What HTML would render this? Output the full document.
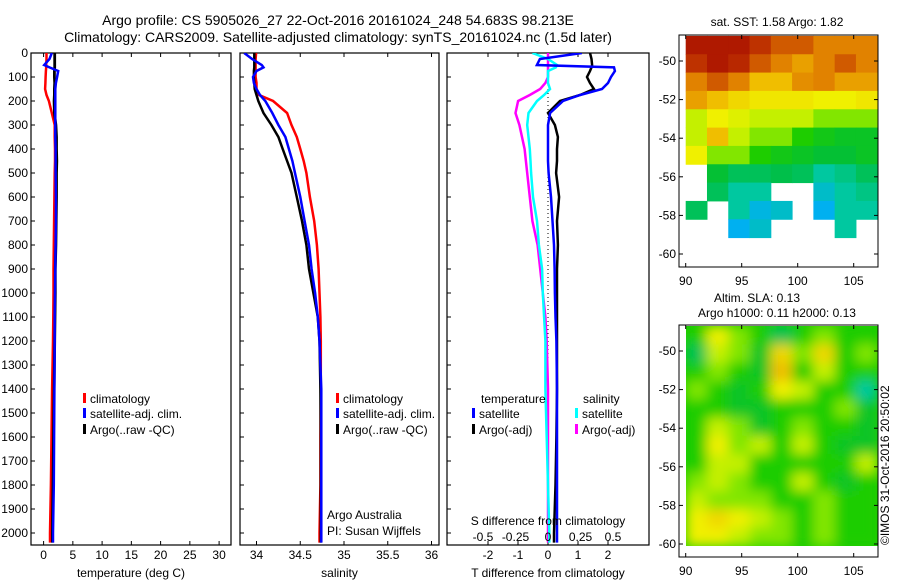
<!DOCTYPE html>
<html><head><meta charset="utf-8"><style>
html,body{margin:0;padding:0;background:#fff}
svg{display:block;font-family:"Liberation Sans",sans-serif}
</style></head><body>
<svg id="c" width="900" height="580" viewBox="0 0 900 580" xmlns="http://www.w3.org/2000/svg">
<defs>
<clipPath id="cp1"><rect x="31" y="53" width="200" height="492"/></clipPath>
<clipPath id="cp2"><rect x="240" y="53" width="199" height="492"/></clipPath>
<clipPath id="cp3"><rect x="447" y="53" width="202" height="492"/></clipPath>
<clipPath id="cm2"><rect x="686" y="326" width="192" height="220"/></clipPath>
<filter id="blur" x="-0.1" y="-0.1" width="1.2" height="1.2"><feGaussianBlur stdDeviation="6"/></filter>
</defs>
<text x="338" y="25" font-size="14" text-anchor="middle">Argo profile: CS 5905026_27 22-Oct-2016 20161024_248 54.683S 98.213E</text>
<text x="338" y="42" font-size="14" text-anchor="middle">Climatology: CARS2009. Satellite-adjusted climatology: synTS_20161024.nc (1.5d later)</text>
<g id="g"></g>
</svg>
<script>
const depth=[0,25,50,60,75,100,125,150,175,200,250,300,350,400,450,500,600,700,800,900,1000,1100,1200,1400,1600,1800,2000,2040];
const tClim=[0.5,0.5,0.45,0.45,0.4,0.35,0.3,0.25,0.5,0.9,1.4,1.9,1.9,1.95,1.95,1.9,1.85,1.8,1.75,1.7,1.7,1.65,1.6,1.45,1.35,1.25,1.1,1.1];
const tSat=[1.4,1.0,0.1,1.0,2.5,2.3,2.1,2.0,2.0,2.0,2.0,2.0,2.0,2.05,2.05,2.05,2.1,2.1,2.05,2.0,1.95,1.9,1.9,1.85,1.8,1.75,1.6,1.6];
const tArgo=[1.9,1.9,1.9,1.9,1.85,1.85,1.9,1.85,1.85,1.8,1.85,2.1,2.2,2.2,2.25,2.2,2.2,2.15,2.1,2.0,2.0,1.95,1.9,1.8,1.7,1.6,1.5,1.5];
const sClim=[33.995,33.99,33.99,33.99,33.99,33.99,34.0,34.0,34.03,34.19,34.35,34.40,34.46,34.5,34.54,34.57,34.61,34.66,34.69,34.71,34.72,34.73,34.735,34.735,34.73,34.73,34.72,34.72];
const sSat=[33.86,33.95,34.06,34.08,34.0,33.96,33.97,34.0,34.04,34.1,34.18,34.25,34.33,34.37,34.41,34.44,34.5,34.55,34.6,34.63,34.67,34.7,34.72,34.74,34.74,34.74,34.74,34.74];
const sArgo=[33.975,33.975,33.975,33.975,33.97,33.97,33.975,33.98,34.0,34.02,34.08,34.17,34.25,34.3,34.35,34.4,34.46,34.52,34.57,34.6,34.65,34.7,34.72,34.73,34.735,34.735,34.735,34.735];
const tdSat=[1.13,-0.27,-0.37,2.2,2.23,2.1,2.0,1.8,1.07,0.5,0.07,0.0,0.0,0.0,0.0,0.02,0.1,0.15,0.2,0.22,0.23,0.25,0.28,0.3,0.3,0.3,0.3,0.3];
const tdArgo=[1.4,1.45,1.47,1.45,1.4,1.3,1.4,1.53,1.07,0.4,0.0,0.23,0.33,0.3,0.3,0.27,0.37,0.3,0.33,0.3,0.3,0.3,0.3,0.3,0.28,0.25,0.2,0.2];
const sdSat=[-0.12,0.0,0.07,0.06,0.0,0.0,0.0,0.015,-0.03,-0.085,-0.15,-0.16,-0.15,-0.14,-0.135,-0.13,-0.115,-0.085,-0.07,-0.045,-0.04,-0.03,-0.02,-0.02,-0.01,0.0,0.01,0.01];
const sdArgo=[0.0,0.0,0.0,0.0,0.0,0.0,-0.02,-0.06,-0.14,-0.23,-0.25,-0.22,-0.2,-0.18,-0.17,-0.16,-0.14,-0.12,-0.08,-0.06,-0.04,-0.02,-0.01,0.0,0.0,0.0,0.0,0.0];
const depthTicks=[0,100,200,300,400,500,600,700,800,900,1000,1100,1200,1300,1400,1500,1600,1700,1800,1900,2000];
const tTicks=[0,5,10,15,20,25,30];
const sTicks=[34,34.5,35,35.5,36];
const tdTicks=[-2,-1,0,1,2];
const sdTicks=[-0.5,-0.25,0,0.25,0.5];
const lonTicks=[90,95,100,105];
const latTicks=[-50,-52,-54,-56,-58,-60];
const sstGrid=[
[0.95,0.95,0.95,0.9,0.85,0.85,0.8,0.8,0.8],
[0.9,0.95,0.92,0.85,0.8,0.75,0.8,0.85,0.8],
[0.8,0.85,0.8,0.7,0.7,0.78,0.8,0.75,0.75],
[0.75,0.7,0.65,0.62,0.62,0.62,0.6,0.6,0.62],
[0.55,0.6,0.58,0.55,0.55,0.55,0.5,0.5,0.5],
[0.55,0.7,0.55,0.5,0.5,0.45,0.42,0.4,0.4],
[0.6,0.5,0.5,0.45,0.42,0.4,0.38,0.38,0.4],
[null,0.38,0.35,0.35,0.36,0.35,0.3,0.32,0.35],
[null,0.35,0.3,0.3,null,null,0.25,0.3,0.32],
[0.35,null,0.3,0.22,0.25,null,0.2,0.3,0.3],
[null,null,0.2,0.25,null,null,null,0.3,null],
[null,null,null,null,null,null,null,null,null]];
const slaGrid=[
[0.45,0.6,0.5,0.45,0.35,0.45,0.5,0.45,0.45],
[0.35,0.55,0.5,0.4,0.65,0.5,0.65,0.45,0.5],
[0.45,0.5,0.45,0.4,0.7,0.45,0.55,0.45,0.45],
[0.5,0.45,0.4,0.45,0.6,0.55,0.45,0.45,0.3],
[0.45,0.45,0.4,0.4,0.45,0.45,0.45,0.5,0.4],
[0.45,0.55,0.5,0.4,0.45,0.5,0.45,0.45,0.4],
[0.45,0.6,0.5,0.55,0.45,0.55,0.45,0.4,0.4],
[0.45,0.55,0.55,0.45,0.45,0.45,0.45,0.45,0.55],
[0.5,0.55,0.5,0.45,0.45,0.55,0.45,0.4,0.45],
[0.55,0.5,0.5,0.5,0.45,0.45,0.5,0.45,0.45],
[0.6,0.65,0.6,0.55,0.5,0.45,0.5,0.45,0.45],
[0.6,0.6,0.55,0.5,0.5,0.45,0.5,0.45,0.45]];

const NS="http://www.w3.org/2000/svg";
const G=document.getElementById('g');
function mk(t,a,p){const e=document.createElementNS(NS,t);for(const k in a)e.setAttribute(k,a[k]);(p||G).appendChild(e);return e;}
function txt(x,y,s,anchor,size,p){const e=mk('text',{x:x,y:y,'font-size':size||12,'text-anchor':anchor||'start'},p);e.textContent=s;return e;}

const yD=d=>53+d*0.24;
const xT=t=>43.6+t*5.85;
const xS=s=>256.5+(s-34)*87.5;
const xTd=v=>548+v*30;
const xSd=v=>548+v*130;

function panel(x0,x1,name,xt,xf,xlab,title,showDepth){
  const g=mk('g',{});
  
  
  mk('rect',{x:x0,y:53,width:x1-x0,height:492,fill:'none',stroke:'#000','stroke-width':1.2},g);
  depthTicks.forEach(d=>{
    mk('line',{x1:x0,x2:x0+4,y1:yD(d),y2:yD(d),stroke:'#000'},g);
    if(showDepth){const t=txt(x0-3,yD(d)+4,String(d),'end',12,g);
      
      }
  });
  xt.forEach(v=>{const x=xf(v);
    mk('line',{x1:x,x2:x,y1:545,y2:541,stroke:'#000'},g);
    mk('line',{x1:x,x2:x,y1:53,y2:57,stroke:'#000'},g);
    const t=txt(x,559,String(v),'middle',12,g);
    
    
  });
  const at=txt((x0+x1)/2,577,title,'middle',12,g);
  
  
  return g;
}
function series(vals,xf,color,w,clip,name,dash){
  const pts=vals.map((v,i)=>xf(v).toFixed(1)+','+yD(depth[i]).toFixed(1)).join(' ');
  const e=mk('polyline',{points:pts,fill:'none',stroke:color,'stroke-width':w,'clip-path':'url(#'+clip+')','stroke-linejoin':'miter'});
  if(dash)e.setAttribute('stroke-dasharray',dash);
  
  
}
function legend(x,y,color,label){
  const g=mk('g',{});
  
  
  mk('rect',{x:x,y:y-10,width:3,height:10,fill:color},g);
  txt(x+7,y,label,'start',12,g);
}
panel(31,231,'temperature-panel',tTicks,xT,'','temperature (deg C)',true);
series(tClim,xT,'#f00',2.5,'cp1','temp-climatology-line');
series(tArgo,xT,'#000',2.8,'cp1','temp-argo-line');
series(tSat,xT,'#00f',2.5,'cp1','temp-satellite-line');
legend(83,403,'#f00','climatology');legend(83,418,'#00f','satellite-adj. clim.');legend(83,434,'#000','Argo(..raw -QC)');

panel(240,439,'salinity-panel',sTicks,xS,'','salinity',false);
series(sClim,xS,'#f00',2.5,'cp2','sal-climatology-line');
series(sArgo,xS,'#000',2.5,'cp2','sal-argo-line');
series(sSat,xS,'#00f',2.5,'cp2','sal-satellite-line');
legend(336,403,'#f00','climatology');legend(336,418,'#00f','satellite-adj. clim.');legend(336,434,'#000','Argo(..raw -QC)');
txt(327,519,'Argo Australia');
txt(327,535,'PI: Susan Wijffels');

panel(447,649,'difference-panel',tdTicks,xTd,'','T difference from climatology',false);
mk('line',{x1:548,x2:548,y1:53,y2:545,stroke:'#000','stroke-width':1,'stroke-dasharray':'1,3'});
series(sdArgo,xSd,'#f0f',2.5,'cp3','sdiff-argo-line');
series(sdSat,xSd,'#0ff',2.5,'cp3','sdiff-satellite-line');
series(tdArgo,xTd,'#000',2.5,'cp3','tdiff-argo-line');
series(tdSat,xTd,'#00f',2.5,'cp3','tdiff-satellite-line');
txt(481,403,'temperature');txt(583,403,'salinity');
legend(472,418,'#00f','satellite');legend(472,434,'#000','Argo(-adj)');
legend(575,418,'#0ff','satellite');legend(575,434,'#f0f','Argo(-adj)');
txt(548,525,'S difference from climatology','middle');
sdTicks.forEach(v=>{const t=txt(xSd(v),541,String(v),'middle');
  
  });

function cmap(v){
  const stops=[[0.2,[0,176,240]],[0.3,[0,200,160]],[0.37,[0,190,60]],[0.45,[30,205,0]],[0.52,[170,240,0]],[0.6,[240,240,0]],[0.7,[240,190,0]],[0.8,[225,130,0]],[0.9,[190,50,0]],[1.0,[160,0,0]]];
  if(v<=stops[0][0])return 'rgb('+stops[0][1]+')';
  for(let i=1;i<stops.length;i++){if(v<=stops[i][0]){const a=stops[i-1],b=stops[i],f=(v-a[0])/(b[0]-a[0]);
    return 'rgb('+a[1].map((c,k)=>Math.round(c+(b[1][k]-c)*f)).join(',')+')';}}
  return 'rgb(160,0,0)';
}
function map(top,name,grid,blur,titles){
  const g=mk('g',{});
  
  
  const xL=l=>685.7+(l-90)*11.2;
  const yL=l=>top+26+(-50-l)*19.3;
  const latTop=-48.7,rows=grid.length,cols=grid[0].length;
  const cw=(107.1-90)/cols, ch=(60.1-48.7)/rows;
  const outer=mk('g',blur?{'clip-path':'url(#cm2)'}:{},g);
  if(blur)mk('rect',{x:686,y:326,width:192,height:220,fill:cmap(0.45)},outer);
  const cg=mk('g',blur?{filter:'url(#blur)'}:{},outer);
  grid.forEach((row,r)=>row.forEach((v,c)=>{
    if(v===null)return;
    const x=xL(90+c*cw),y=yL(latTop-r*ch);
    const e=mk('rect',{x:x,y:y,width:cw*11.2+0.5,height:ch*19.3+0.5,fill:cmap(v)},cg);
    
    
  }));
  mk('rect',{x:679,y:top,width:199,height:232,fill:'none',stroke:'#000','stroke-width':1},g);
  lonTicks.forEach(l=>{const x=xL(l);
    mk('line',{x1:x,x2:x,y1:top,y2:top+4,stroke:'#000'},g);
    mk('line',{x1:x,x2:x,y1:top+232,y2:top+228,stroke:'#000'},g);
    txt(x,top+250,String(l),'middle',12,g);});
  latTicks.forEach(l=>{const y=yL(l);
    mk('line',{x1:679,x2:683,y1:y,y2:y,stroke:'#000'},g);
    mk('line',{x1:878,x2:874,y1:y,y2:y,stroke:'#000'},g);
    txt(676,y+4,String(l),'end',12,g);});
  titles.forEach(t=>txt(t[0],t[1],t[2],'middle',12,g));
}
map(35,'sst-map',sstGrid,false,[[777,26,'sat. SST: 1.58 Argo: 1.82']]);
map(325,'sla-map',slaGrid,true,[[757,302,'Altim. SLA: 0.13'],[777,317,'Argo h1000: 0.11 h2000: 0.13']]);
const r=txt(0,0,'©IMOS 31-Oct-2016 20:50:02','start',12);
r.setAttribute('transform','translate(889,545) rotate(-90)');


</script>
</body></html>
